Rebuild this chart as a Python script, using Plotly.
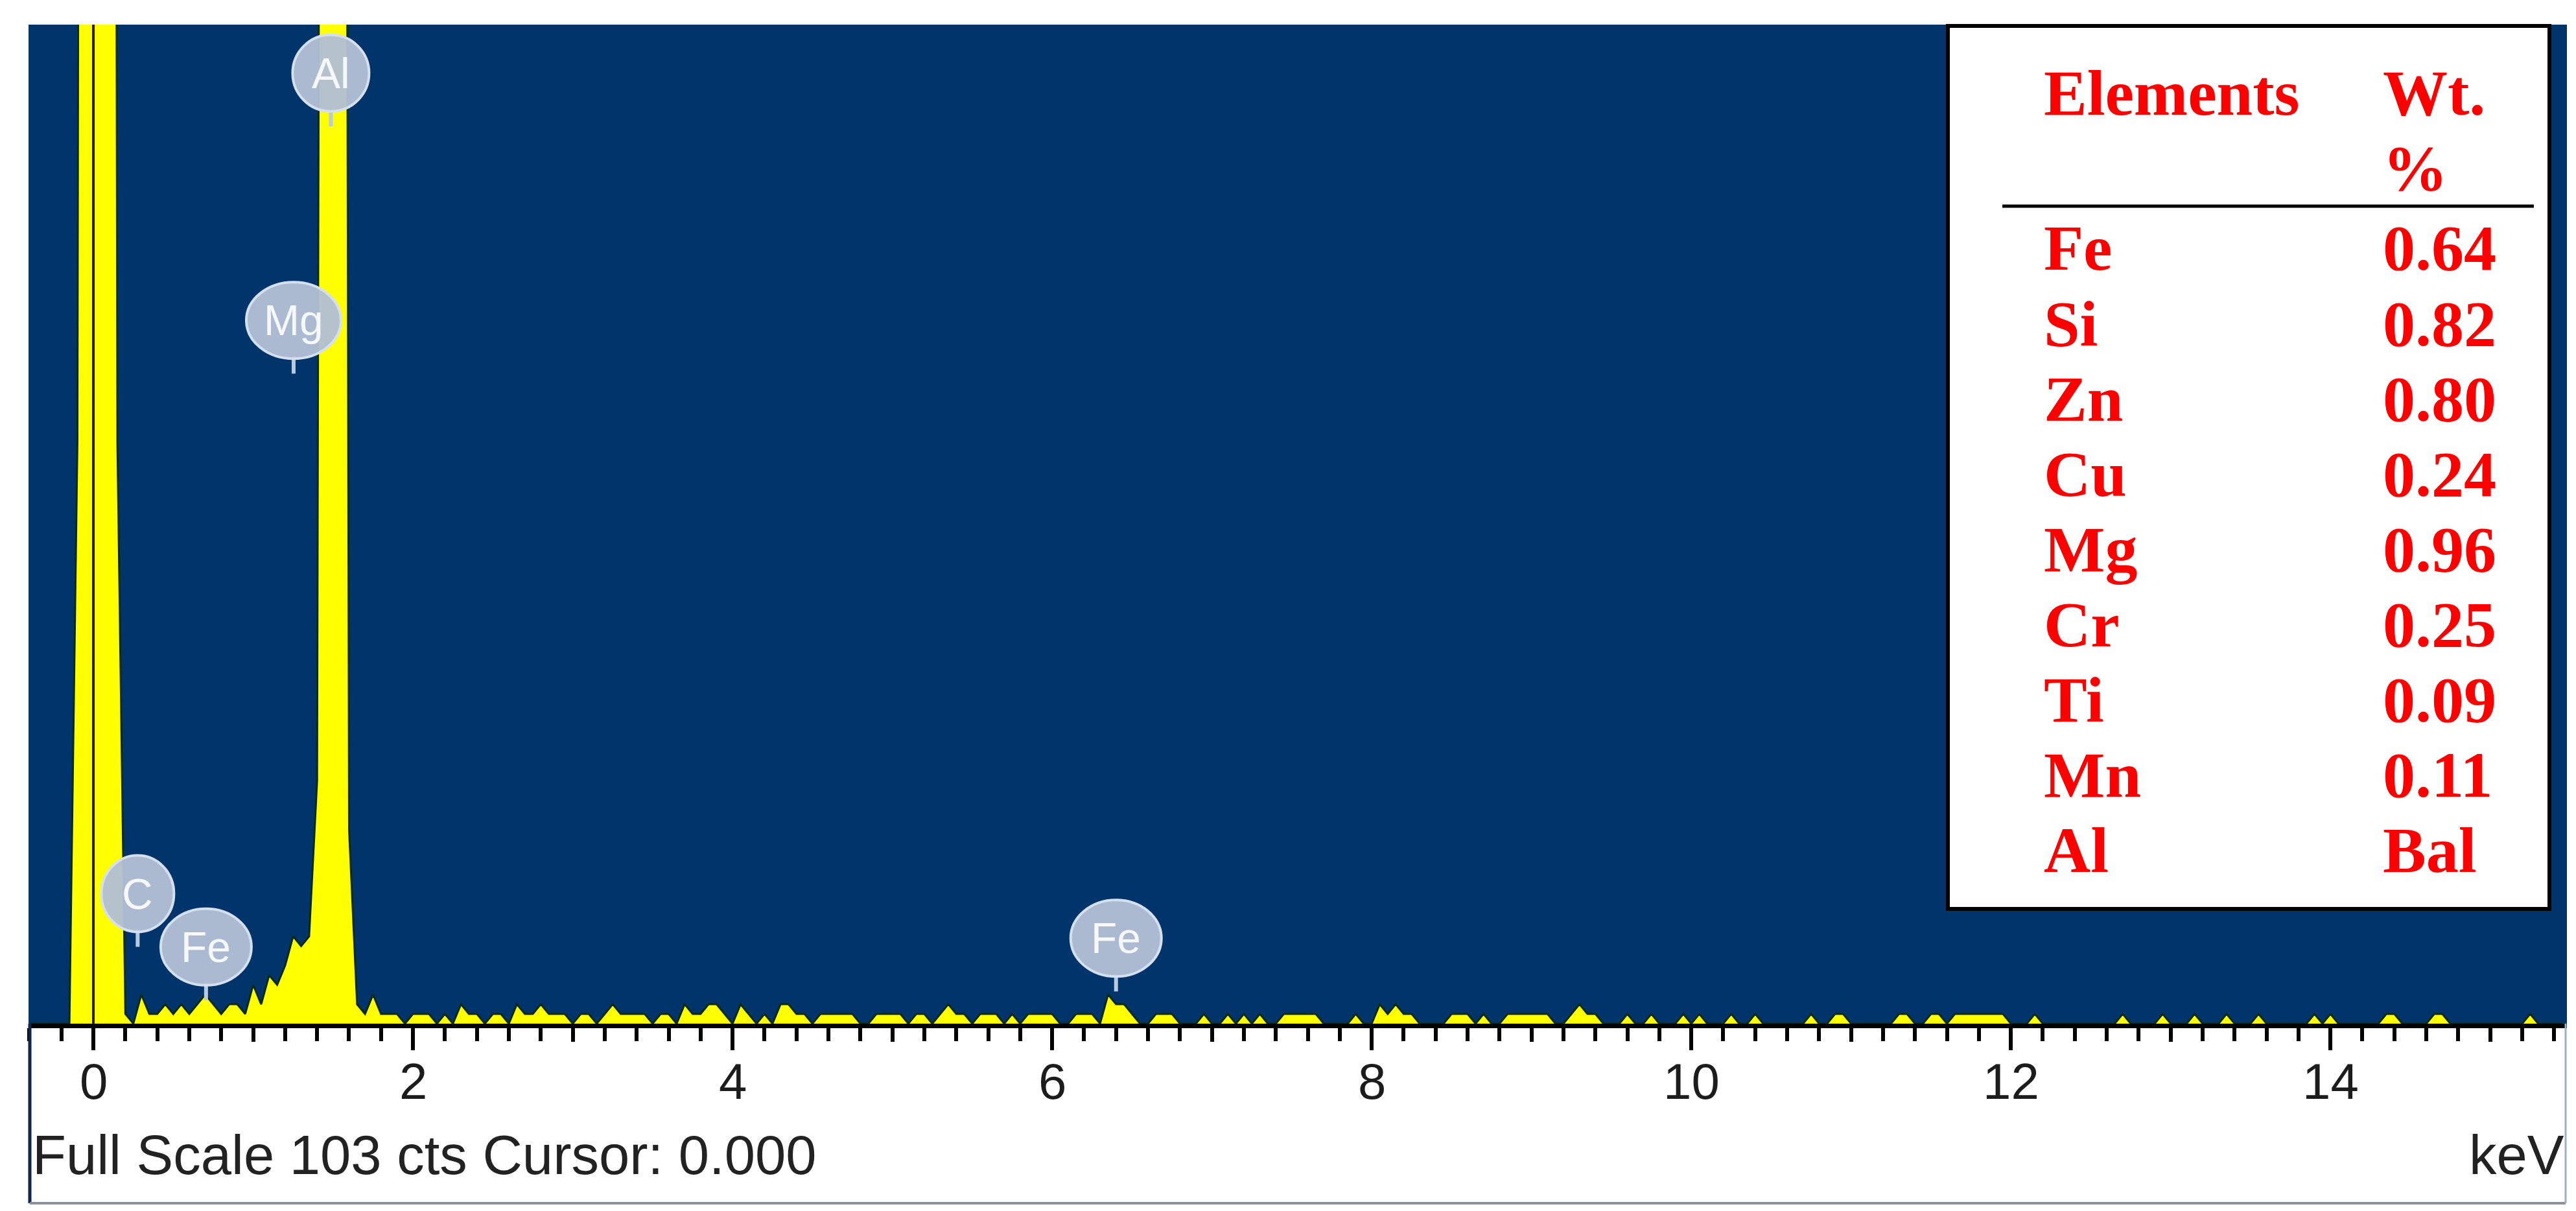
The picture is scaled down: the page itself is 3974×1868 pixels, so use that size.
import numpy as np
import plotly.graph_objects as go

# EDS spectrum, 0.05 keV channels starting at -0.40 keV (counts per channel)
channel_start = -0.40
channel_width = 0.05
counts = [
    0, 0, 0, 0, 0, 0, 60, 800, 1000, 900, 500, 60, 1, 0, 3, 1, 1, 2, 1, 2,        # -0.40 .. 0.55
    1, 2, 3, 2, 1, 2, 2, 1, 4, 2, 5, 4, 6, 9, 8, 9, 25, 400, 500, 400,            # 0.60 .. 1.55
    20, 2, 1, 3, 1, 1, 1, 0, 1, 1, 1, 0, 1, 0, 2, 1, 1, 0, 1, 1,                  # 1.60 .. 2.55
    0, 2, 1, 1, 2, 1, 1, 1, 0, 1, 1, 0, 1, 2, 1, 1, 1, 1, 0, 1,                   # 2.60 .. 3.55
    1, 0, 2, 1, 1, 2, 2, 1, 0, 2, 1, 0, 1, 0, 2, 2, 1, 1, 0, 1,                   # 3.60 .. 4.55
    1, 1, 1, 1, 0, 0, 1, 1, 1, 1, 0, 1, 1, 0, 1, 2, 1, 1, 0, 1,                   # 4.60 .. 5.55
    1, 1, 0, 1, 0, 1, 1, 1, 1, 0, 0, 1, 1, 1, 0, 3, 2, 2, 1, 0,                   # 5.60 .. 6.55
    0, 1, 1, 1, 0, 0, 0, 1, 0, 0, 1, 0, 1, 0, 1, 0, 0, 1, 1, 1,                   # 6.60 .. 7.55
    1, 1, 0, 0, 0, 0, 1, 0, 0, 2, 1, 2, 1, 1, 0, 0, 0, 0, 1, 1,                   # 7.60 .. 8.55
    1, 0, 1, 0, 0, 1, 1, 1, 1, 1, 1, 0, 0, 1, 2, 1, 1, 0, 0, 0,                   # 8.60 .. 9.55
    1, 0, 0, 1, 0, 0, 0, 1, 0, 1, 0, 0, 0, 1, 0, 0, 1, 0, 0, 0,                   # 9.60 .. 10.55
    0, 0, 0, 1, 0, 0, 1, 1, 0, 0, 0, 0, 0, 0, 1, 1, 0, 0, 1, 1,                   # 10.60 .. 11.55
    0, 1, 1, 1, 1, 1, 1, 1, 0, 0, 0, 1, 0, 0, 0, 0, 0, 0, 0, 0,                   # 11.60 .. 12.55
    0, 0, 1, 0, 0, 0, 0, 1, 0, 0, 0, 1, 0, 0, 0, 1, 0, 0, 0, 1,                   # 12.60 .. 13.55
    0, 0, 0, 0, 0, 0, 1, 0, 1, 0, 0, 0, 0, 0, 0, 1, 1, 0, 0, 0,                   # 13.60 .. 14.55
    0, 1, 1, 0, 0, 0, 0, 0, 0, 0, 0, 0, 0, 1, 0, 0, 0, 0,                         # 14.60 .. 15.45
]
energies = np.round(channel_start + channel_width * np.arange(len(counts)), 2)

tick_vals = [0, 2, 4, 6, 8, 10, 12, 14]

# peak labels
label_names = ["Al", "Mg", "C", "Fe", "Fe"]
label_kev = [1.486, 1.253, 0.277, 0.705, 6.400]
label_cts = [98.0, 72.5, 13.4, 7.9, 8.8]
label_w = [118, 146, 112, 140, 140]

# composition table
elements = ["Fe", "Si", "Zn", "Cu", "Mg", "Cr", "Ti", "Mn", "Al"]
wt_pct = ["0.64", "0.82", "0.80", "0.24", "0.96", "0.25", "0.09", "0.11", "Bal"]

full_scale = 103
x_range = [-0.406, 15.48]

W, H = 3974, 1868
L, R, T, B = 36, 22, 30, 297
plot_w = W - L - R
plot_h = H - T - B


def px_x(px):
    return (px - L) / plot_w


def px_y(py):
    return (H - B - py) / plot_h


navy = "#01346B"
sans = "Liberation Sans, Arial, sans-serif"
serif = "Liberation Serif, Times New Roman, serif"

fig = go.Figure()

fig.add_trace(go.Scatter(
    x=energies, y=counts, mode="lines",
    line=dict(color="#0d2b12", width=3),
    fill="tozeroy", fillcolor="#FFFF00",
    showlegend=False, hoverinfo="skip",
))
# carrier for the second tick layer (1 keV ticks)
fig.add_trace(go.Scatter(x=[0], y=[0], xaxis="x2", mode="none",
                         showlegend=False, hoverinfo="skip"))

shapes = []
annotations = []

# cursor at 0 keV
shapes.append(dict(type="line", xref="x", yref="paper", x0=0, x1=0, y0=0, y1=1,
                   line=dict(color="#2a1d05", width=4), layer="above"))

# peak label bubbles
for name, xk, yc, w in zip(label_names, label_kev, label_cts, label_w):
    shapes.append(dict(type="line", xref="x", yref="y", xsizemode="pixel", ysizemode="pixel",
                       xanchor=xk, yanchor=yc, x0=0, x1=0, y0=-55, y1=-82,
                       line=dict(color="#b9c9de", width=6), layer="above"))
    shapes.append(dict(type="circle", xref="x", yref="y", xsizemode="pixel", ysizemode="pixel",
                       xanchor=xk, yanchor=yc, x0=-w / 2, x1=w / 2, y0=-59, y1=59,
                       fillcolor="rgba(178,192,212,0.96)",
                       line=dict(color="#d4dff0", width=4), layer="above"))
    annotations.append(dict(x=xk, y=yc, xref="x", yref="y", text=name, showarrow=False,
                            font=dict(family=sans, size=66, color="#f6f8fc"),
                            xanchor="center", yanchor="middle"))

# x tick labels (placed by hand to sit close under the ticks)
for v in tick_vals:
    annotations.append(dict(x=v, y=px_y(1660), xref="x", yref="paper", text=str(v),
                            showarrow=False, xanchor="center", yanchor="middle",
                            font=dict(family=sans, size=78, color="#1c1c1c")))

# table box
shapes.append(dict(type="rect", xref="paper", yref="paper",
                   x0=px_x(2997), x1=px_x(3925), y0=px_y(1394), y1=px_y(32),
                   fillcolor="white", line=dict(color="black", width=6), layer="above"))
shapes.append(dict(type="line", xref="paper", yref="paper",
                   x0=px_x(3081), x1=px_x(3901), y0=px_y(310), y1=px_y(310),
                   line=dict(color="black", width=5), layer="above"))

red = "#FF0000"
tfont = dict(family=serif, size=100, color=red, weight="bold")
for txt, xp, yp in [("Elements", 3143, 136), ("Wt.", 3666, 136), ("%", 3666, 251)]:
    annotations.append(dict(x=px_x(xp), y=px_y(yp), xref="paper", yref="paper", text=txt,
                            showarrow=False, xanchor="left", yanchor="middle", font=tfont))
for i, (el, v) in enumerate(zip(elements, wt_pct)):
    yp = 375 + 116 * i
    annotations.append(dict(x=px_x(3143), y=px_y(yp), xref="paper", yref="paper", text=el,
                            showarrow=False, xanchor="left", yanchor="middle", font=tfont))
    annotations.append(dict(x=px_x(3666), y=px_y(yp), xref="paper", yref="paper", text=v,
                            showarrow=False, xanchor="left", yanchor="middle", font=tfont))

# footer texts
annotations.append(dict(x=px_x(40), y=px_y(1773), xref="paper", yref="paper",
                        text=f"Full Scale {full_scale} cts Cursor: 0.000", showarrow=False,
                        xanchor="left", yanchor="middle",
                        font=dict(family=sans, size=85, color="#222222")))
annotations.append(dict(x=px_x(3950), y=px_y(1773), xref="paper", yref="paper",
                        text="keV", showarrow=False, xanchor="right", yanchor="middle",
                        font=dict(family=sans, size=85, color="#222222")))

# frame of the lower panel
bottom_py = 1848
shapes.append(dict(type="line", xref="paper", yref="paper", x0=px_x(38), x1=px_x(38),
                   y0=px_y(bottom_py), y1=0, line=dict(color="#12254a", width=5)))
shapes.append(dict(type="line", xref="paper", yref="paper", x0=px_x(38), x1=px_x(3950),
                   y0=px_y(bottom_py), y1=px_y(bottom_py), line=dict(color="#8c929c", width=4)))
shapes.append(dict(type="line", xref="paper", yref="paper", x0=px_x(3950), x1=px_x(3950),
                   y0=px_y(bottom_py), y1=0, line=dict(color="#9fb0c8", width=3)))

fig.update_layout(
    width=W, height=H,
    margin=dict(l=L, r=R, t=T, b=B, pad=0),
    paper_bgcolor="white", plot_bgcolor=navy,
    shapes=shapes, annotations=annotations,
    xaxis=dict(
        range=x_range, tick0=0, dtick=2, ticks="outside", ticklen=34, tickwidth=6,
        tickcolor="black", showline=True, linecolor="black", linewidth=7,
        showgrid=False, zeroline=False, showticklabels=False,
        minor=dict(tick0=0, dtick=0.2, ticks="outside", ticklen=20, tickwidth=6,
                   tickcolor="black", showgrid=False),
    ),
    xaxis2=dict(
        range=x_range, overlaying="x", anchor="y", side="bottom", tick0=0, dtick=1,
        ticks="outside", ticklen=27, tickwidth=6, tickcolor="black",
        showticklabels=False, showgrid=False, zeroline=False, showline=False,
    ),
    yaxis=dict(range=[0, full_scale], visible=False, showgrid=False, zeroline=False),
)

fig.write_html("out.html")
